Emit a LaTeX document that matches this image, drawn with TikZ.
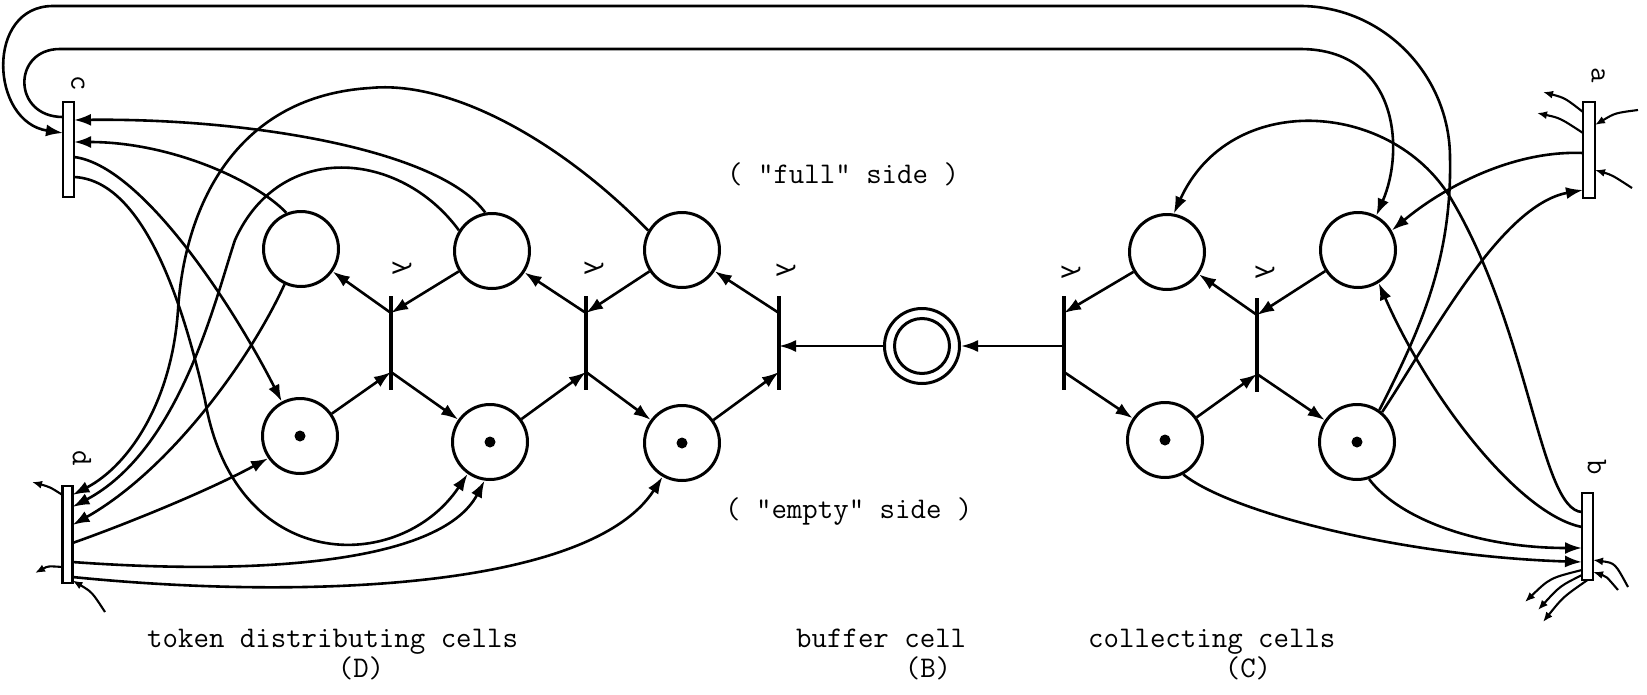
\documentclass[tikz,border=0pt]{standalone}
\usepackage{fontspec}
\newfontfamily\lmono{Liberation Mono}
\usetikzlibrary{arrows.meta,calc}
\begin{document}
\begin{tikzpicture}[x=1pt,y=-1pt,
  conn/.style={line width=2.6pt},
  arr/.style={conn,-{Latex[length=17pt,width=12pt]}},
  stub/.style={line width=2.1pt,-{Latex[length=10pt,width=8pt]}},
  place/.style={circle,draw,line width=3pt,minimum size=75pt,inner sep=0pt},
  tok/.style={circle,fill,inner sep=0pt,minimum size=11pt},
  tbar/.style={rectangle,fill=black,draw=none,minimum width=3.4pt,minimum height=94pt,inner sep=0pt,outer sep=0pt},
  ibar/.style={rectangle,draw,fill=white,line width=2.6pt,inner sep=0pt,outer sep=0pt},
  lab/.style={font=\ttfamily\fontsize{30}{32}\selectfont,inner sep=0pt},
  rlab/.style={lab,rotate=-90},
  lamb/.style={font=\lmono\fontsize{26}{28}\selectfont,inner sep=0pt,rotate=-90}
]
\fill[white] (0,0) rectangle (1647,694);
\useasboundingbox (0,0) rectangle (1647,694);

% places
\node[place] (U1) at (301,249) {};
\node[place] (U2) at (492,251) {};
\node[place] (U3) at (682,250) {};
\node[place] (L1) at (300,436) {};
\node[place] (L2) at (490,442) {};
\node[place] (L3) at (682,443) {};
\node[place] (U4) at (1167,252) {};
\node[place] (L4) at (1165,440) {};
\node[place] (U5) at (1358,250) {};
\node[place] (L5) at (1357,442) {};
\node[place] (B) at (922,346) {};
\node[circle,draw,line width=3pt,minimum size=55pt,inner sep=0pt] (Bi) at (B) {};
\foreach \p in {L1,L2,L3,L4,L5} \node[tok] (tok\p) at (\p) {};

% transitions
\node[tbar] (T1) at (391,343) {};
\node[tbar] (T2) at (586,343) {};
\node[tbar] (T3) at (779,343) {};
\node[tbar] (T4) at (1064,343) {};
\node[tbar] (T5) at (1257,345) {};
\foreach \t in {T1,T2,T3,T4,T5} {
  \coordinate (\t u) at ([yshift=30pt]\t.center);
  \coordinate (\t l) at ([yshift=-29pt]\t.center);
}
\node[lamb] (lam1) at (402,268) {λ};
\node[lamb] (lam2) at (594,268) {λ};
\node[lamb] (lam3) at (786,270) {λ};
\node[lamb] (lam4) at (1071,272) {λ};
\node[lamb] (lam5) at (1265,272) {λ};

% outer bars (positions only, drawn later)
\path (68.5,149.5) node[ibar,minimum width=11pt,minimum height=95pt] (c) {};
\path (67.5,534.5) node[ibar,minimum width=10pt,minimum height=97pt] (d) {};
\path (1589,150) node[ibar,minimum width=12pt,minimum height=96pt] (a) {};
\path (1587.5,536.5) node[ibar,minimum width=11pt,minimum height=87pt] (b) {};

% attachment points
\coordinate (cw117) at ([yshift=32.5pt]c.west);
\coordinate (ce120) at ([yshift=29.5pt]c.east);
\coordinate (cw133) at ([yshift=16.5pt]c.west);
\coordinate (ce142) at ([yshift=7.5pt]c.east);
\coordinate (ce157) at ([yshift=-7.5pt]c.east);
\coordinate (ce177) at ([yshift=-27.5pt]c.east);
\coordinate (de495) at ([yshift=39.5pt]d.east);
\coordinate (de507) at ([yshift=27.5pt]d.east);
\coordinate (de525) at ([yshift=9.5pt]d.east);
\coordinate (de543) at ([yshift=-8.5pt]d.east);
\coordinate (de562) at ([yshift=-27.5pt]d.east);
\coordinate (de577) at ([yshift=-42.5pt]d.east);
\coordinate (dw495) at ([yshift=39.5pt]d.west);
\coordinate (dw567) at ([yshift=-32.5pt]d.west);
\coordinate (de582) at ([yshift=-46pt]d.east);
\coordinate (aw190) at ([yshift=-40pt]a.west);
\coordinate (aw153) at ([yshift=-3pt]a.west);
\coordinate (aw112) at ([yshift=38pt]a.west);
\coordinate (aw133) at ([yshift=17pt]a.west);
\coordinate (ae125) at ([yshift=25pt]a.east);
\coordinate (ae170) at ([yshift=-20pt]a.east);
\coordinate (bw512) at ([yshift=24.5pt]b.west);
\coordinate (bw527) at ([yshift=9.5pt]b.west);
\coordinate (bw548) at ([yshift=-11.5pt]b.west);
\coordinate (bw562) at ([yshift=-25.5pt]b.west);
\coordinate (bw570) at ([yshift=-33.5pt]b.west);
\coordinate (bw575) at ([yshift=-38.5pt]b.west);
\coordinate (be560) at ([yshift=-23.5pt]b.east);
\coordinate (be572) at ([yshift=-35.5pt]b.east);
% free stub ends
\coordinate (ds1) at (32,482);
\coordinate (ds2) at (35,573);
\coordinate (ds3) at (105,612);
\coordinate (as1) at (1543,92);
\coordinate (as2) at (1537,113);
\coordinate (as3) at (1638,110);
\coordinate (as4) at (1632,188);
\coordinate (bs1) at (1628,587);
\coordinate (bs2) at (1618,590);
\coordinate (bs3) at (1525,602);
\coordinate (bs4) at (1538,610);
\coordinate (bs5) at (1543,622);

% internal arcs
\draw[arr] (T1u) -- (U1);
\draw[arr] (U2) -- (T1u);
\draw[arr] (L1) -- (T1l);
\draw[arr] (T1l) -- (L2);
\draw[arr] (T2u) -- (U2);
\draw[arr] (U3) -- (T2u);
\draw[arr] (L2) -- (T2l);
\draw[arr] (T2l) -- (L3);
\draw[arr] (T3u) -- (U3);
\draw[arr] (L3) -- (T3l);
\draw[arr] (B.west) -- (B.west -| T3);
\draw[arr] (B.east -| T4) -- (B.east);
\draw[arr] (U4) -- (T4u);
\draw[arr] (T4l) -- (L4);
\draw[arr] (T5u) -- (U4);
\draw[arr] (L4) -- (T5l);
\draw[arr] (U5) -- (T5u);
\draw[arr] (T5l) -- (L5);

% long loops
\draw[arr] (cw117) .. controls (12,117) and (12,49) .. (60,49) -- (1300,49)
  .. controls (1398,49) and (1405,150) .. (U5.62);
\draw[arr] (L5.55) .. controls (1420,330) and (1452,260) .. (1450,158)
  .. controls (1450,75) and (1383,6) .. (1300,6) -- (53,6)
  .. controls (-15,6) and (-10,122) .. (cw133);

% right side
\draw[arr] (L5.50) .. controls (1430,340) and (1500,205) .. (aw190);
\draw[arr] (aw153) .. controls (1510,150) and (1440,190) .. (U5.30);
\draw[arr] (bw512) .. controls (1540,510) and (1530,330) .. (1450,197)
  .. controls (1390,100) and (1230,90) .. (U4.80);
\draw[arr] (bw527) .. controls (1520,515) and (1430,400) .. (U5.-58);
\draw[arr] (L5.-72) .. controls (1400,520) and (1480,548) .. (bw548);
\draw[arr] (L4.-62) .. controls (1230,512) and (1400,556) .. (bw562);

% left side
\draw[arr] (U2.100) .. controls (440,150) and (250,118) .. (ce120);
\draw[arr] (U1.112) .. controls (255,180) and (170,142) .. (ce142);
\draw[arr] (ce157) .. controls (140,165) and (230,300) .. (L1.118);
\draw[arr] (ce177) .. controls (140,180) and (180,290) .. (205,400)
  .. controls (235,575) and (400,575) .. (L2.235);
\draw[arr] (U1.245) .. controls (250,360) and (170,470) .. (de525);
\draw[arr] (U2.148) .. controls (400,150) and (280,140) .. (235,240)
  .. controls (215,300) and (180,450) .. (de507);
\draw[arr] (U3.150) .. controls (560,140) and (450,80) .. (370,88)
  .. controls (240,96) and (185,200) .. (178,310)
  .. controls (172,400) and (130,465) .. (de495);
\draw[arr] (de543) .. controls (110,530) and (200,495) .. (L1.215);
\draw[arr] (de562) .. controls (250,575) and (440,565) .. (L2.262);
\draw[arr] (de577) .. controls (300,600) and (590,590) .. (L3.240);

% stubs
\draw[stub] (dw495) .. controls (50,487) .. (ds1);
\draw[stub] (dw567) .. controls (48,566) .. (ds2);
\draw[stub] (ds3) .. controls (92,592) .. (de582);
\draw[stub] (aw112) .. controls (1565,98) .. (as1);
\draw[stub] (aw133) .. controls (1560,118) .. (as2);
\draw[stub] (as3) .. controls (1615,113) .. (ae125);
\draw[stub] (as4) .. controls (1612,175) .. (ae170);
\draw[stub] (bs1) .. controls (1615,563) .. (be560);
\draw[stub] (bs2) .. controls (1606,576) .. (be572);
\draw[stub] (bw570) .. controls (1550,578) .. (bs3);
\draw[stub] (bw575) .. controls (1560,586) .. (bs4);
\draw[stub] (b.south) .. controls (1563,597) .. (bs5);

% bars on top
\node[ibar,minimum width=11pt,minimum height=95pt] (c2) at (c) {};
\node[ibar,minimum width=10pt,minimum height=97pt] (d2) at (d) {};
\node[ibar,minimum width=12pt,minimum height=96pt] (a2) at (a) {};
\node[ibar,minimum width=11pt,minimum height=87pt] (b2) at (b) {};

% labels
\node[rlab] (lc) at (78,83) {c};
\node[rlab] (ld) at (82,458) {d};
\node[rlab] (la) at (1598,75) {a};
\node[rlab] (lb) at (1597,467) {b};

\node[lab,anchor=base west] (tfull) at (727,183) {( "full" side )};
\node[lab,anchor=base west] (tempty) at (725,518) {( "empty" side )};
\node[lab,anchor=base west] (tD) at (147,647) {token distributing cells};
\node[lab,anchor=base] (tDD) at (361,677) {(D)};
\node[lab,anchor=base west] (tB) at (796,647) {buffer cell};
\node[lab,anchor=base] (tBB) at (928,677) {(B)};
\node[lab,anchor=base west] (tC) at (1088,647) {collecting cells};
\node[lab,anchor=base] (tCC) at (1248,677) {(C)};
\end{tikzpicture}
\end{document}
